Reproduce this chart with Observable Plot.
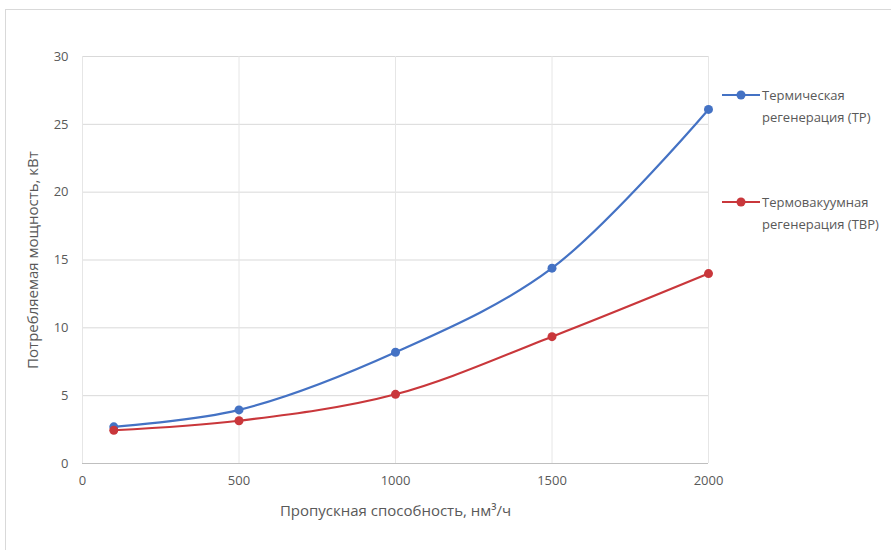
<!DOCTYPE html>
<html><head><meta charset="utf-8">
<script src="https://cdn.jsdelivr.net/npm/d3@7"></script>
<script src="https://cdn.jsdelivr.net/npm/@observablehq/plot@0.6"></script>
<style>
body{margin:0;background:#fff;font-family:"Open Sans",sans-serif;}
#wrap{position:relative;width:891px;height:550px;overflow:hidden;}
#frame{position:absolute;left:5px;top:9px;width:900px;height:560px;border:1px solid #d9d9d9;box-sizing:border-box;}
.leg{position:absolute;font-size:13px;color:#595959;line-height:22px;}
.leg svg{position:absolute;left:-42px;top:4px;}
</style></head>
<body><div id="wrap"><div id="frame"></div><div id="chart"></div></div>
<script>
const capacity = [100, 500, 1000, 1500, 2000];
const powerTR = [2.7, 3.95, 8.2, 14.4, 26.1];
const powerTVR = [2.45, 3.15, 5.1, 9.35, 14.0];
const seriesNames = ["Термическая регенерация (ТР)", "Термовакуумная регенерация (ТВР)"];
const legendLines = [["Термическая", "регенерация (ТР)"], ["Термовакуумная", "регенерация (ТВР)"]];
const colors = ["#4472C4", "#C9373B"];
const xTicks = [0, 500, 1000, 1500, 2000];
const yTicks = [0, 5, 10, 15, 20, 25, 30];
const xLabel = "Пропускная способность, нм³/ч";
const yLabel = "Потребляемая мощность, кВт";

const data = [];
capacity.forEach((c, i) => {
  data.push({x: c, y: powerTR[i], s: seriesNames[0]});
  data.push({x: c, y: powerTVR[i], s: seriesNames[1]});
});

const chart = Plot.plot({
  width: 891, height: 550,
  marginLeft: 82, marginRight: 183, marginTop: 56, marginBottom: 87,
  style: {fontFamily: "Open Sans, sans-serif", fontSize: "13px", color: "#595959", background: "transparent"},
  x: {domain: [0, 2000], ticks: xTicks, label: null},
  y: {domain: [0, 30], ticks: yTicks, label: null},
  color: {domain: seriesNames, range: colors},
  marks: [
    Plot.gridY(yTicks.filter(d => d > 0), {stroke: "#d9d9d9", strokeOpacity: 1}),
    Plot.gridX(xTicks, {stroke: "#e6e6e6", strokeOpacity: 1}),
    Plot.ruleY([0], {stroke: "#bfbfbf", strokeWidth: 1.2}),
    Plot.axisX(xTicks, {tickSize: 0, tickPadding: 12, fill: "#595959", fontSize: 13, tickFormat: d => String(d)}),
    Plot.axisY(yTicks, {tickSize: 0, tickPadding: 14, fill: "#595959", fontSize: 13, tickFormat: d => String(d)}),
    Plot.text([xLabel], {frameAnchor: "bottom", dy: 52, fill: "#595959", fontSize: 15}),
    Plot.text([yLabel], {frameAnchor: "left", textAnchor: "middle", dx: -49, dy: 0, rotate: -90, fill: "#595959", fontSize: 15}),
    Plot.line(data, {x: "x", y: "y", stroke: "s", z: "s", strokeWidth: 2.2, curve: "catmull-rom"}),
    Plot.dot(data, {x: "x", y: "y", fill: "s", r: 4.5})
  ]
});
document.getElementById("chart").appendChild(chart);

const tops = [84, 191];
legendLines.forEach((lines, i) => {
  const d = document.createElement("div");
  d.className = "leg";
  d.style.left = "762px";
  d.style.top = tops[i] + "px";
  d.innerHTML = `<svg width="42" height="14"><line x1="2" y1="7" x2="40" y2="7" stroke="${colors[i]}" stroke-width="2.2"/><circle cx="21" cy="7" r="4.5" fill="${colors[i]}"/></svg>${lines[0]}<br>${lines[1]}`;
  document.getElementById("wrap").appendChild(d);
});
</script></body></html>
